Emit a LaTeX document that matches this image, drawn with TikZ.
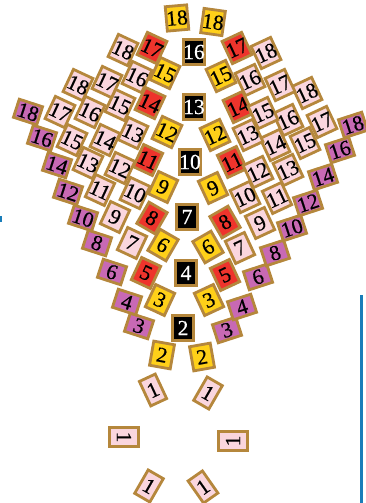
\documentclass[tikz,border=0pt]{standalone}
\usepackage{fontspec}
\setmainfont{Liberation Serif}
\newfontfamily\tilefont{Liberation Serif}[FakeBold=0.6]
\definecolor{tborder}{RGB}{181,135,60}
\definecolor{tpink}{RGB}{250,214,222}
\definecolor{tpurple}{RGB}{200,105,180}
\definecolor{tred}{RGB}{238,52,44}
\definecolor{tyellow}{RGB}{255,208,25}
\definecolor{tblue}{RGB}{25,125,185}
\begin{document}
\begin{tikzpicture}[x=1pt,y=-1pt,
  tile/.style={rectangle, draw=tborder, line width=2.8pt, inner sep=0pt,
    font=\tilefont\fontsize{21.5}{21.5}\selectfont, minimum width=21pt, minimum height=24.5pt},
  pk/.style={tile, fill=tpink},
  pu/.style={tile, fill=tpurple, minimum width=24.5pt, minimum height=19pt},
  rd/.style={tile, fill=tred},
  yl/.style={tile, fill=tyellow},
  bk/.style={tile, fill=black, text=white},
  one/.style={tile, fill=tpink, minimum width=17.5pt, minimum height=27pt},
  onem/.style={tile, fill=tpink, minimum width=19pt, minimum height=29pt}]
\useasboundingbox (0,0) rectangle (366,503);
% blue rules
\coordinate (bt) at (361.5,295);
\coordinate (bb) at (361.5,503);
\draw[tblue, line width=3.6pt] (bt) -- (bb);
\fill[tblue] (0,216) rectangle (1.8,222);
% centre column
\foreach \x/\y/\n in {183/328/2,186/273/4,187/217/7,190/162/10,194/107/13,194/52/16}
  \node[bk] (b\n) at (\x,\y) {\n};
% left yellow / red
\node[yl, rotate=-10] (ly2) at (162,355) {2};
\node[yl, rotate=-25] (ly3) at (160,300) {3};
\node[rd, rotate=-25] (lr5) at (146,273) {5};
\node[yl, rotate=-30] (ly6) at (163,245) {6};
\node[rd, rotate=-30] (lr8) at (152,218) {8};
\node[yl, rotate=-25] (ly9) at (163,187) {9};
\node[rd, rotate=-25] (lr11) at (148,160) {11};
\node[yl, rotate=-25] (ly12) at (167,132) {12};
\node[rd, rotate=-25] (lr14) at (150,103) {14};
\node[yl, rotate=-25] (ly15) at (165,73) {15};
\node[rd, rotate=-25] (lr17) at (152,48) {17};
\node[yl, rotate=5] (ly18) at (177,18) {18};
% right yellow / red
\node[yl, rotate=10] (ry2) at (202,357) {2};
\node[yl, rotate=25] (ry3) at (209,300) {3};
\node[rd, rotate=25] (rr5) at (225,275) {5};
\node[yl, rotate=30] (ry6) at (208,247) {6};
\node[rd, rotate=30] (rr8) at (225,222) {8};
\node[yl, rotate=25] (ry9) at (213,188) {9};
\node[rd, rotate=25] (rr11) at (232,162) {11};
\node[yl, rotate=25] (ry12) at (215,135) {12};
\node[rd, rotate=25] (rr14) at (238,107) {14};
\node[yl, rotate=25] (ry15) at (221,76) {15};
\node[rd, rotate=25] (rr17) at (237,48) {17};
\node[yl, rotate=-8] (ry18) at (213,22) {18};
% purple strips
\foreach \x/\y/\n in {139/326/3,127/302/4,112/272/6,97/243/8,83/218/10,68/192/12,57/165/14,42/138/16,28/112/18}
  \node[pu, rotate=-18] (lu\n) at (\x,\y) {\n};
\foreach \x/\y/\n in {227/330/3,242/307/4,258/277/6,275/253/8,292/228/10,308/203/12,323/177/14,340/150/16,353/125/18}
  \node[pu, rotate=18] (ru\n) at (\x,\y) {\n};
% left pink rows
\foreach \x/\y/\n in {132/243/7,115/217/9,100/190/11,88/163/13,72/140/15,60/112/17}
  \node[pk, rotate=-25] (lpa\n) at (\x,\y) {\n};
\foreach \x/\y/\n in {135/193/10,120/168/12,105/140/14,90/112/16,78/85/18}
  \node[pk, rotate=-25] (lpb\n) at (\x,\y) {\n};
\foreach \x/\y/\n in {133/133/13,120/105/15,107/82/17}
  \node[pk, rotate=-25] (lpc\n) at (\x,\y) {\n};
\foreach \x/\y/\n in {137/77/16,123/50/18}
  \node[pk, rotate=-25] (lpd\n) at (\x,\y) {\n};
% right pink rows
\foreach \x/\y/\n in {240/248/7,260/223/9,277/198/11,288/170/13,305/143/15,322/122/17}
  \node[pk, rotate=25] (rpa\n) at (\x,\y) {\n};
\foreach \x/\y/\n in {245/197/10,258/172/12,275/145/14,288/120/16,307/93/18}
  \node[pk, rotate=25] (rpb\n) at (\x,\y) {\n};
\foreach \x/\y/\n in {248/135/13,263/113/15,280/85/17}
  \node[pk, rotate=25] (rpc\n) at (\x,\y) {\n};
\foreach \x/\y/\n in {250/80/16,266/53/18}
  \node[pk, rotate=25] (rpd\n) at (\x,\y) {\n};
% ring of ones
\node[one, rotate=25] (o1) at (153,390) {1};
\node[one, rotate=-30] (o2) at (208,393) {1};
\node[onem, rotate=-90] (o3) at (124,437) {1};
\node[onem, rotate=90] (o4) at (233,441) {1};
\node[one, rotate=-30] (o5) at (149,486) {1};
\node[one, rotate=35] (o6) at (203,487) {1};
\end{tikzpicture}
\end{document}
